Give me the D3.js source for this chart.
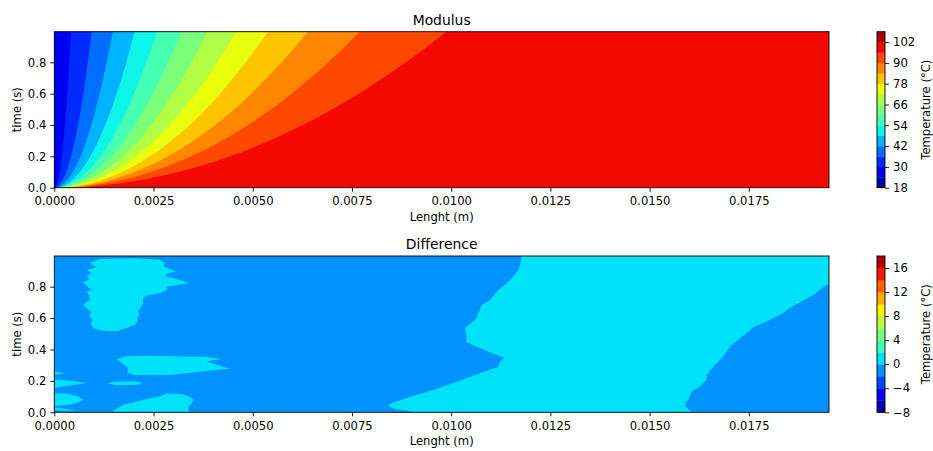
<!DOCTYPE html>
<html>
<head>
<meta charset="utf-8">
<script src="https://cdn.jsdelivr.net/npm/d3@7"></script>
<style>
  body { margin: 0; background: #fff; }
  text { font-family: "DejaVu Sans", sans-serif; fill: #000; }
</style>
</head>
<body>
<svg width="933" height="451"></svg>
<script>
// ---- data ----
const lengthMax = 0.01952;
const timeMax = 0.9955;
const xTicks = [0, 0.0025, 0.005, 0.0075, 0.01, 0.0125, 0.015, 0.0175];
const yTicks = [0, 0.2, 0.4, 0.6, 0.8];

// Modulus: contour levels and x position (m) of each iso-line at given times
const modLevels = [18, 24, 30, 36, 42, 48, 54, 60, 66, 72, 78, 84, 90, 96, 102, 108];
const modTicks = [18, 30, 42, 54, 66, 78, 90, 102];
const modTimes = [0, 0.01, 0.03, 0.06, 0.1, 0.2, 0.3, 0.45, 0.6, 0.8, 0.9955];
const iso30 = [0, 0.000042, 0.000073, 0.000103, 0.000133, 0.000189, 0.000231, 0.000283, 0.000327, 0.000377, 0.000421];
const iso36 = [0, 0.000094, 0.000164, 0.000231, 0.000299, 0.000423, 0.000518, 0.000634, 0.000732, 0.000845, 0.000943];
const iso42 = [0, 0.000147, 0.000256, 0.000361, 0.000467, 0.000660, 0.000808, 0.000989, 0.001142, 0.001319, 0.001472];
const iso48 = [0, 0.000203, 0.000352, 0.000497, 0.000642, 0.000907, 0.001111, 0.001361, 0.001571, 0.001815, 0.002025];
const iso54 = [0, 0.000259, 0.000450, 0.000635, 0.000821, 0.001161, 0.001421, 0.001741, 0.002010, 0.002321, 0.002590];
const iso60 = [0, 0.000321, 0.000556, 0.000785, 0.001014, 0.001434, 0.001756, 0.002151, 0.002483, 0.002868, 0.003200];
const iso66 = [0, 0.000386, 0.000669, 0.000946, 0.001222, 0.001728, 0.002116, 0.002592, 0.002993, 0.003456, 0.003856];
const iso72 = [0, 0.000459, 0.000795, 0.001123, 0.001451, 0.002052, 0.002513, 0.003078, 0.003554, 0.004104, 0.004579];
const iso78 = [0, 0.000539, 0.000934, 0.001320, 0.001705, 0.002411, 0.002953, 0.003616, 0.004175, 0.004822, 0.005380];
const iso84 = [0, 0.000640, 0.001109, 0.001568, 0.002025, 0.002863, 0.003507, 0.004295, 0.004959, 0.005727, 0.006390];
const iso90 = [0, 0.000772, 0.001337, 0.001889, 0.002440, 0.003450, 0.004226, 0.005176, 0.005976, 0.006901, 0.007700];
const iso96 = [0, 0.000990, 0.001715, 0.002424, 0.003131, 0.004427, 0.005422, 0.006641, 0.007667, 0.008855, 0.009880];

// Difference: levels, background band is -2..0, cyan patches are 0..2
const diffLevels = [-8, -6, -4, -2, 0, 2, 4, 6, 8, 10, 12, 14, 16, 18];
const diffTicks = [-8, -4, 0, 4, 8, 12, 16];
const diffBase = [-2, 0];
const diffPatch = [0, 2];
const patchUpper = [[0.000917,0.955],[0.001152,0.976],[0.001991,0.981],[0.002664,0.972],[0.002790,0.951],[0.002747,0.930],[0.002916,0.913],[0.003067,0.898],[0.002832,0.883],[0.002790,0.866],[0.003084,0.849],[0.003402,0.824],[0.003084,0.809],[0.002832,0.802],[0.002848,0.781],[0.002664,0.760],[0.002328,0.743],[0.002228,0.728],[0.002243,0.696],[0.002177,0.664],[0.002117,0.643],[0.002142,0.622],[0.002092,0.601],[0.002102,0.580],[0.002034,0.558],[0.001824,0.537],[0.001572,0.516],[0.001235,0.520],[0.000983,0.537],[0.000917,0.564],[0.000968,0.590],[0.000882,0.611],[0.000917,0.637],[0.000816,0.664],[0.000731,0.679],[0.000799,0.701],[0.000900,0.717],[0.000882,0.743],[0.000816,0.764],[0.000942,0.781],[0.000832,0.802],[0.000731,0.828],[0.000882,0.845],[0.000816,0.870],[0.000942,0.887],[0.000816,0.904],[0.001068,0.925],[0.000942,0.940]];
const patchMid = [[0.001572,0.340],[0.001824,0.357],[0.002412,0.360],[0.003840,0.352],[0.004218,0.340],[0.003840,0.325],[0.004092,0.303],[0.004428,0.278],[0.003755,0.261],[0.002999,0.239],[0.001991,0.238],[0.001840,0.255],[0.001865,0.282],[0.001698,0.314]];
const patchStreak = [[0.001336,0.185],[0.001530,0.195],[0.002034,0.198],[0.002243,0.187],[0.002034,0.174],[0.001530,0.174]];
const patchEdge1 = [[-0.0001,0.261],[0.000100,0.257],[0.000244,0.248],[0.000100,0.241],[-0.0001,0.239]];
const patchEdge2 = [[-0.0001,0.208],[0.000300,0.204],[0.000600,0.195],[0.000800,0.187],[0.000600,0.179],[0.000300,0.168],[-0.0001,0.153]];
const patchEdge3 = [[-0.0001,0.125],[0.000350,0.118],[0.000600,0.100],[0.000730,0.080],[0.000600,0.062],[0.000350,0.047],[-0.0001,0.038]];
const patchEdge4 = [[-0.0001,0.034],[0.000200,0.026],[0.000450,0.015],[0.000550,0.010],[0.000300,0.010],[-0.0001,0.016]];
const patchLow = [[0.001450,-0.01],[0.001490,0.012],[0.001739,0.048],[0.002243,0.080],[0.002664,0.102],[0.002832,0.119],[0.003210,0.117],[0.003377,0.102],[0.003520,0.080],[0.003462,0.059],[0.003377,0.034],[0.003402,-0.01]];
const patchBig = [[0.011800,1.01],[0.011778,0.991],[0.011736,0.938],[0.011693,0.906],[0.011484,0.843],[0.011149,0.768],[0.010980,0.715],[0.010771,0.684],[0.010685,0.631],[0.010644,0.599],[0.010493,0.567],[0.010350,0.535],[0.010392,0.481],[0.010367,0.450],[0.010728,0.408],[0.011149,0.365],[0.011340,0.348],[0.011232,0.322],[0.011189,0.290],[0.010728,0.248],[0.010140,0.195],[0.009551,0.142],[0.008964,0.099],[0.008460,0.055],[0.008417,0.038],[0.008586,0.021],[0.008964,0.006],[0.009266,-0.01],
  [0.016062,-0.01],[0.016062,0],[0.015918,0.034],[0.015893,0.059],[0.015977,0.080],[0.016062,0.134],[0.016271,0.165],[0.016440,0.208],[0.016440,0.239],[0.016650,0.303],[0.016859,0.357],[0.017028,0.420],[0.017280,0.473],[0.017658,0.548],[0.017867,0.569],[0.018119,0.601],[0.018371,0.632],[0.018456,0.653],[0.018792,0.701],[0.019127,0.749],[0.019338,0.792],[0.019520,0.819],[0.0197,0.83],[0.0197,1.01]];

// ---- jet colormap (matplotlib segments) ----
function seg(pts, v) {
  for (let i = 1; i < pts.length; i++) {
    if (v <= pts[i][0]) {
      const [a, ya] = pts[i - 1], [b, yb] = pts[i];
      return ya + (yb - ya) * (v - a) / (b - a);
    }
  }
  return pts[pts.length - 1][1];
}
function jet(v) {
  v = Math.max(0, Math.min(1, v));
  const r = seg([[0,0],[0.35,0],[0.66,1],[0.89,1],[1,0.5]], v);
  const g = seg([[0,0],[0.125,0],[0.375,1],[0.64,1],[0.91,0],[1,0]], v);
  const b = seg([[0,0.5],[0.11,1],[0.34,1],[0.65,0],[1,0]], v);
  return d3.rgb(r * 255, g * 255, b * 255).formatHex();
}
const bandColor = (levels, lo, hi) =>
  jet(((lo + hi) / 2 - levels[0]) / (levels[levels.length - 1] - levels[0]));

// ---- layout ----
const svg = d3.select("svg");
const left = 54.3, right = 829;
const panels = [
  { top: 31.7, bottom: 187.7, title: "Modulus" },
  { top: 256, bottom: 412.3, title: "Difference" }
];
const cbX0 = 877, cbX1 = 885;
const fs = 11.6;

const x = d3.scaleLinear().domain([0, lengthMax]).range([left, right]);

function drawAxes(p, y, idx) {
  const g = svg.append("g");
  const xa = g.append("g").attr("transform", `translate(0,${p.bottom})`)
    .call(d3.axisBottom(x).tickValues(xTicks).tickFormat(d3.format(".4f"))
      .tickSize(4).tickPadding(4).tickSizeOuter(0));
  const ya = g.append("g").attr("transform", `translate(${left},0)`)
    .call(d3.axisLeft(y).tickValues(yTicks).tickFormat(d3.format(".1f"))
      .tickSize(4).tickPadding(4).tickSizeOuter(0));
  [xa, ya].forEach(a => {
    a.select(".domain").remove();
    a.selectAll("line").attr("stroke", "#000").attr("stroke-width", 0.9);
    a.selectAll("text").attr("font-size", fs).attr("font-family", "DejaVu Sans");
  });
  xa.selectAll("text").attr("dy", "0.8em");
  g.append("rect").attr("x", left).attr("y", p.top)
    .attr("width", right - left).attr("height", p.bottom - p.top)
    .attr("fill", "none").attr("stroke", "#000").attr("stroke-width", 0.9);
  g.append("text").attr("x", (left + right) / 2).attr("y", p.top - 7)
    .attr("text-anchor", "middle").attr("font-size", 13.9).text(p.title);
  g.append("text").attr("x", (left + right) / 2).attr("y", p.bottom + 33)
    .attr("text-anchor", "middle").attr("font-size", fs).text("Lenght (m)");
  g.append("text")
    .attr("transform", `translate(21,${(p.top + p.bottom) / 2}) rotate(-90)`)
    .attr("text-anchor", "middle").attr("font-size", fs).text("time (s)");
}

function drawColorbar(p, levels, ticks) {
  const cy = d3.scaleLinear().domain([levels[0], levels[levels.length - 1]]).range([p.bottom, p.top]);
  const g = svg.append("g");
  g.selectAll("rect.band").data(d3.pairs(levels)).join("rect")
    .attr("x", cbX0).attr("width", cbX1 - cbX0)
    .attr("y", d => cy(d[1])).attr("height", d => cy(d[0]) - cy(d[1]) + 0.3)
    .attr("fill", d => bandColor(levels, d[0], d[1]));
  g.append("rect").attr("x", cbX0).attr("y", p.top)
    .attr("width", cbX1 - cbX0).attr("height", p.bottom - p.top)
    .attr("fill", "none").attr("stroke", "#000").attr("stroke-width", 0.9);
  const a = g.append("g").attr("transform", `translate(${cbX1},0)`)
    .call(d3.axisRight(cy).tickValues(ticks).tickFormat(d => d < 0 ? "\u2212" + Math.abs(d) : d)
      .tickSize(4).tickPadding(4).tickSizeOuter(0));
  a.select(".domain").remove();
  a.selectAll("line").attr("stroke", "#000").attr("stroke-width", 0.9);
  a.selectAll("text").attr("font-size", fs).attr("font-family", "DejaVu Sans");
  g.append("text")
    .attr("transform", `translate(930,${(p.top + p.bottom) / 2}) rotate(-90)`)
    .attr("text-anchor", "middle").attr("font-size", fs).text("Temperature (°C)");
}

// ---- Modulus panel ----
{
  const p = panels[0];
  const y = d3.scaleLinear().domain([0, timeMax]).range([p.bottom, p.top]);
  svg.append("clipPath").attr("id", "clip0").append("rect")
    .attr("x", left).attr("y", p.top).attr("width", right - left).attr("height", p.bottom - p.top);
  const g = svg.append("g").attr("clip-path", "url(#clip0)");
  g.append("rect").attr("x", left).attr("y", p.top)
    .attr("width", right - left).attr("height", p.bottom - p.top)
    .attr("fill", bandColor(modLevels, 96, 102));
  const isos = [[96, iso96], [90, iso90], [84, iso84], [78, iso78], [72, iso72], [66, iso66],
                [60, iso60], [54, iso54], [48, iso48], [42, iso42], [36, iso36], [30, iso30]];
  const line = d3.line().x(d => x(d[0])).y(d => y(d[1])).curve(d3.curveMonotoneX);
  isos.forEach(([lvl, xs]) => {
    const pts = xs.map((v, i) => [v, modTimes[i]]);
    g.append("path")
      .attr("d", line(pts) + `L${x(0)},${y(timeMax)}L${x(0)},${y(0)}Z`)
      .attr("fill", bandColor(modLevels, lvl - 6, lvl));
  });
  drawAxes(p, y, 0);
  drawColorbar(p, modLevels, modTicks);
}

// ---- Difference panel ----
{
  const p = panels[1];
  const y = d3.scaleLinear().domain([0, timeMax]).range([p.bottom, p.top]);
  svg.append("clipPath").attr("id", "clip1").append("rect")
    .attr("x", left).attr("y", p.top).attr("width", right - left).attr("height", p.bottom - p.top);
  const g = svg.append("g").attr("clip-path", "url(#clip1)");
  g.append("rect").attr("x", left).attr("y", p.top)
    .attr("width", right - left).attr("height", p.bottom - p.top)
    .attr("fill", bandColor(diffLevels, diffBase[0], diffBase[1]));
  const poly = d3.line().x(d => x(d[0])).y(d => y(d[1])).curve(d3.curveLinearClosed);
  const patches = [patchUpper, patchMid, patchStreak, patchEdge1, patchEdge2, patchEdge3, patchEdge4, patchLow, patchBig];
  g.selectAll("path.patch").data(patches).join("path")
    .attr("d", d => poly(d))
    .attr("fill", bandColor(diffLevels, diffPatch[0], diffPatch[1]));
  drawAxes(p, y, 1);
  drawColorbar(p, diffLevels, diffTicks);
}
</script>
</body>
</html>
